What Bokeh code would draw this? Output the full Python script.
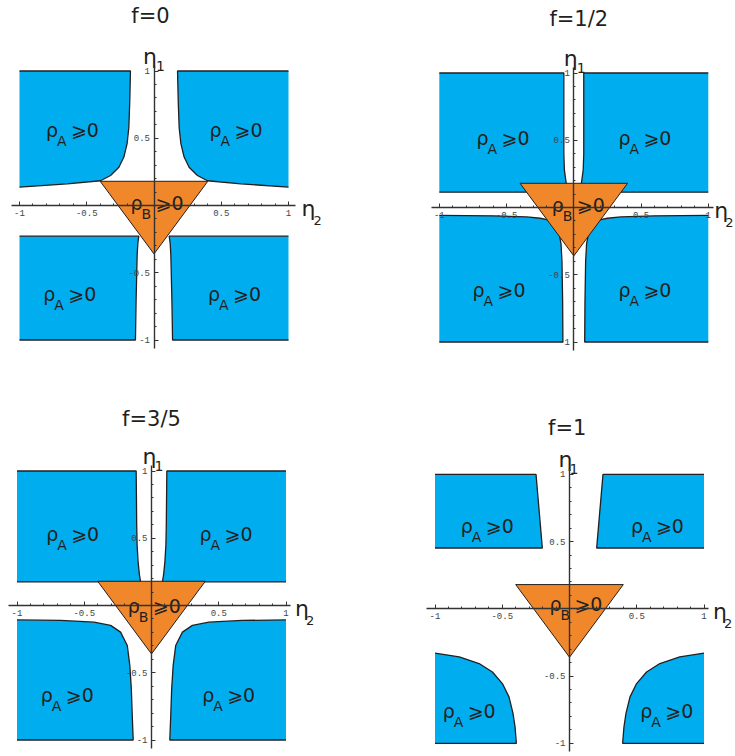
from bokeh.plotting import figure
from bokeh.layouts import column, row
from bokeh.models import FixedTicker, Range1d
from bokeh.core.properties import value
from bokeh.embed import file_html
from bokeh.resources import INLINE

# ---------------- data ----------------
panel_titles = ["f=0", "f=1/2", "f=3/5", "f=1"]

major_ticks = [-1.0, -0.5, 0.5, 1.0]
minor_ticks = [-1.0, -0.9, -0.8, -0.7, -0.6, -0.5, -0.4, -0.3, -0.2, -0.1, 0.0,
               0.1, 0.2, 0.3, 0.4, 0.5, 0.6, 0.7, 0.8, 0.9, 1.0]
tick_labels = {-1.0: "-1", -0.5: "-0.5", 0.5: "0.5", 1.0: "1"}

# rho_B >= 0 triangle (eta2, eta1)
triangle_eta2 = [-0.4, 0.4, 0.0]
triangle_eta1 = [0.18, 0.18, -0.36]

# rho_A >= 0 regions: upper-left and lower-left boundaries (right side is the mirror image)
f0_ul_eta2 = [-1.0, -0.175, -0.18, -0.187, -0.2, -0.224, -0.261, -0.323, -0.398, -0.646, -1.0]
f0_ul_eta1 = [1.0, 1.0, 0.78, 0.58, 0.46, 0.36, 0.285, 0.223, 0.184, 0.161, 0.136]
f0_ll_eta2 = [-1.0, -0.113, -0.12, -0.125, -0.133, -0.138, -1.0]
f0_ll_eta1 = [-0.228, -0.228, -0.28, -0.36, -0.7, -1.0, -1.0]

f12_ul_eta2 = [-1.0, -0.074, -0.074, -0.07, -0.062, -0.055, -0.05, -1.0]
f12_ul_eta1 = [1.0, 1.0, 0.4, 0.28, 0.22, 0.17, 0.114, 0.114]
f12_ll_eta2 = [-1.0, -0.6, -0.35, -0.25, -0.2, -0.14, -0.11, -0.095, -0.088, -0.083, -0.081, -1.0]
f12_ll_eta1 = [-0.059, -0.062, -0.07, -0.08, -0.09, -0.13, -0.19, -0.27, -0.4, -0.7, -1.0, -1.0]

f35_ul_eta2 = [-1.0, -0.114, -0.11, -0.107, -0.1, -0.09, -0.081, -1.0]
f35_ul_eta1 = [1.0, 1.0, 0.6, 0.45, 0.33, 0.23, 0.175, 0.175]
f35_ll_eta2 = [-1.0, -0.674, -0.427, -0.304, -0.23, -0.18, -0.161, -0.15, -0.143, -0.136, -1.0]
f35_ll_eta1 = [-0.107, -0.111, -0.124, -0.148, -0.198, -0.298, -0.447, -0.62, -0.82, -1.0, -1.0]

f1_ul_eta2 = [-1.0, -0.249, -0.202, -1.0]
f1_ul_eta1 = [1.0, 1.0, 0.452, 0.452]
f1_ll_eta2 = [-1.0, -0.82, -0.672, -0.573, -0.499, -0.45, -0.42, -0.405, -0.395, -1.0]
f1_ll_eta1 = [-0.329, -0.358, -0.407, -0.47, -0.556, -0.655, -0.778, -0.877, -1.0, -1.0]

region_data = [
    (f0_ul_eta2, f0_ul_eta1, f0_ll_eta2, f0_ll_eta1),
    (f12_ul_eta2, f12_ul_eta1, f12_ll_eta2, f12_ll_eta1),
    (f35_ul_eta2, f35_ul_eta1, f35_ll_eta2, f35_ll_eta1),
    (f1_ul_eta2, f1_ul_eta1, f1_ll_eta2, f1_ll_eta1),
]

# ---------------- layout / style ----------------
BLUE = "#00AEEF"
ORANGE = "#F1872B"
INK = "#231F20"
FONT = "DejaVu Sans"
SCALE = 134.5  # px per unit

# (width, height, center x px from left, center y px from top)
frames = [(367, 408, 153.5, 205.0), (368, 408, 206.3, 207.0),
          (367, 346, 151.0, 197.0), (368, 346, 202.0, 200.3)]
title_pos = [(-0.026, 1.41), (0.037, 1.40), (0.0, 1.39), (-0.017, 1.345)]
label_pos = [
    [(-0.61, 0.614), (0.606, 0.614), (-0.63, -0.608), (0.595, -0.608)],
    [(-0.53, 0.57), (0.525, 0.57), (-0.56, -0.565), (0.525, -0.565)],
    [(-0.59, 0.58), (0.55, 0.58), (-0.63, -0.61), (0.57, -0.61)],
    [(-0.615, 0.667), (0.65, 0.667), (-0.75, -0.709), (0.72, -0.709)],
]
rhob_pos = [(0.019, 0.074), (0.03, 0.067), (0.017, 0.05), (0.044, 0.086)]
eta1_off = [(-11, 2), (-10, 3), (-9, 3), (-11, 0)]
eta2_off = [(13, 25), (6, 17), (9, 20), (9, 20)]
xbounds = [(-1.06, 1.05), (-1.06, 1.035), (-1.06, 1.03), (-1.06, 1.03)]


def txt(p, x, y, s, size, xo=0, yo=0, align="left", baseline="alphabetic"):
    p.text(x=[x], y=[y], text=[s], x_offset=xo, y_offset=yo,
           text_align=align, text_baseline=baseline,
           text_font=value(FONT), text_font_size=size, text_color=INK)


def rho_label(p, x, y, sub):
    txt(p, x, y, "ρ", "19px", xo=-26, yo=7)
    txt(p, x, y, sub, "14px", xo=-15, yo=18)
    txt(p, x, y, "⩾0", "19px", xo=-1, yo=7)


def make_panel(i):
    W, H, cx, cy = frames[i]
    p = figure(width=W, height=H,
               x_range=Range1d(-cx / SCALE, (W - cx) / SCALE),
               y_range=Range1d(-(H - cy) / SCALE, cy / SCALE),
               toolbar_location=None, output_backend="svg", min_border=0)
    p.grid.visible = False
    p.outline_line_color = None

    ulx, uly, llx, lly = region_data[i]
    for xs, ys in [(ulx, uly), (llx, lly),
                   ([-v for v in ulx], uly), ([-v for v in llx], lly)]:
        p.patch(xs, ys, fill_color=BLUE, line_color=None)
        p.line(xs, ys, line_color=INK, line_width=1.3)

    p.patch(triangle_eta2, triangle_eta1, fill_color=ORANGE,
            line_color=INK, line_width=1.0)

    for (lx, ly) in label_pos[i]:
        rho_label(p, lx, ly, "A")
    bx, by = rhob_pos[i]
    rho_label(p, bx, by, "B")

    tx, ty = title_pos[i]
    txt(p, tx, ty, panel_titles[i], "21px", align="center", baseline="middle")

    ex, es = eta1_off[i]
    txt(p, 0.0, 1.0, "η", "22px", xo=ex, yo=-15)
    txt(p, 0.0, 1.0, "1", "14px", xo=es, yo=-5)
    ex2, es2 = eta2_off[i]
    txt(p, 1.0, 0.0, "η", "22px", xo=ex2, yo=3)
    txt(p, 1.0, 0.0, "2", "13px", xo=es2, yo=15)

    for ax, bnds in ((p.xaxis[0], xbounds[i]), (p.yaxis[0], (-1.06, 1.04))):
        ax.fixed_location = 0
        ax.bounds = bnds
        ax.ticker = FixedTicker(ticks=major_ticks, minor_ticks=minor_ticks)
        ax.major_label_overrides = tick_labels
        ax.axis_line_color = "#333333"
        ax.axis_line_width = 1.4
        ax.major_tick_line_color = "#333333"
        ax.minor_tick_line_color = "#333333"
        ax.major_tick_in = 4
        ax.major_tick_out = 0
        ax.minor_tick_in = 2
        ax.minor_tick_out = 0
        ax.major_label_standoff = 4
        ax.major_label_text_font = "Liberation Mono"
        ax.major_label_text_font_size = "9px"
        ax.major_label_text_color = "#444444"
    return p


panels = [make_panel(i) for i in range(4)]
layout = column(row(panels[0], panels[1], spacing=0),
                row(panels[2], panels[3], spacing=0), spacing=0)

open("out.html", "w").write(file_html(layout, INLINE))
